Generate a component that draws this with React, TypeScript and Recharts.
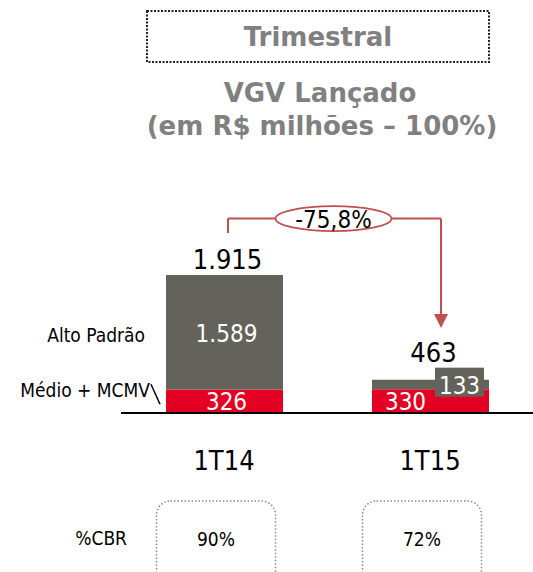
import React from 'react';
import { BarChart, Bar, XAxis, YAxis, LabelList, ReferenceLine } from 'recharts';

const quarters = ['1T14', '1T15'];
const medioMcmv = [326, 330];
const altoPadrao = [1589, 133];
const totals = [1915, 463];
const cbrShare = ['90%', '72%'];
const variationText = '-75,8%';

// bracket annotation levels, in chart units (R$ mi)
const bracketTop = 2700;
const bracketLeftEnd = 2500;
const arrowEnd = 1180;

const RED = '#e30022';
const GRAY = '#64635b';
const ARROW = '#c0504d';
const TITLE_GRAY = '#808080';
const NUM_FONT = "'DejaVu Sans Condensed', 'DejaVu Sans', sans-serif";
const TITLE_FONT = "'DejaVu Sans', sans-serif";

const chartData = quarters.map((q, i) => ({
  q,
  medio: medioMcmv[i],
  alto: altoPadrao[i],
}));

const fmt = (v: number) => v.toLocaleString('pt-BR');

const box = (props: any) => props.viewBox ?? props;

const AltoLabel = (props: any) => {
  const { x, y, width, height } = box(props);
  const index = props.index;
  const cx = x + width / 2;
  const small = height < 20;
  let topEdge = y;
  let inner;
  if (small) {
    const bx = x + 63;
    const by = y - 12;
    topEdge = by;
    inner = (
      <g>
        <rect x={bx} y={by} width={49} height={29} fill={GRAY} />
        <text x={bx + 24.5} y={by + 26} textAnchor="middle" fill="#fff" fontSize={24} fontFamily={NUM_FONT}>
          {fmt(altoPadrao[index])}
        </text>
      </g>
    );
  } else {
    inner = (
      <text x={cx + 2} y={y + height / 2 + 10} textAnchor="middle" fill="#fff" fontSize={24} fontFamily={NUM_FONT}>
        {fmt(altoPadrao[index])}
      </text>
    );
  }
  return (
    <g>
      {inner}
      <text x={cx + 3} y={topEdge - 6} textAnchor="middle" fill="#000" fontSize={27} fontFamily={NUM_FONT}>
        {fmt(totals[index])}
      </text>
      {index === 0 && (
        <text x={x - 21} y={y + height / 2 + 10} textAnchor="end" fill="#000" fontSize={19} fontFamily={NUM_FONT}>
          Alto Padrão
        </text>
      )}
    </g>
  );
};

const MedioLabel = (props: any) => {
  const { x, y, width, height } = box(props);
  const index = props.index;
  const nextSmall = altoPadrao[index] * 0.072 < 20;
  const cx = x + width / 2 + (nextSmall ? -25 : 2);
  const mid = y + height / 2;
  return (
    <g>
      <text x={cx} y={mid + 9} textAnchor="middle" fill="#fff" fontSize={24} fontFamily={NUM_FONT}>
        {fmt(medioMcmv[index])}
      </text>
      {index === 0 && (
        <g>
          <text x={x - 16} y={mid - 4} textAnchor="end" fill="#000" fontSize={19} fontFamily={NUM_FONT}>
            Médio + MCMV
          </text>
          <line x1={x - 15} y1={mid - 17} x2={x - 6} y2={mid + 3} stroke="#000" strokeWidth={1.5} />
        </g>
      )}
    </g>
  );
};

const QuarterTick = (props: any) => {
  const { x, y, payload } = props;
  const i = quarters.indexOf(payload.value);
  const bx = x - 8;
  return (
    <g>
      <text x={x} y={y + 57} textAnchor="middle" fill="#000" fontSize={27} fontFamily={NUM_FONT}>
        {payload.value}
      </text>
      <rect
        x={bx - 59.5}
        y={y + 88}
        width={119}
        height={110}
        rx={14}
        fill="none"
        stroke="#8a8a8a"
        strokeWidth={1.5}
        strokeDasharray="1.5 2"
      />
      <text x={bx} y={y + 133} textAnchor="middle" fill="#000" fontSize={19} fontFamily={NUM_FONT}>
        {cbrShare[i]}
      </text>
    </g>
  );
};

const LeftStem = (p: any) => (
  <line x1={p.x1 + 4} y1={p.y1} x2={p.x2 + 4} y2={p.y2} stroke={ARROW} strokeWidth={2} />
);

const TopBar = (p: any) => {
  const x1 = p.x1 + 4;
  const x2 = p.x2 + 11;
  const mx = (x1 + x2) / 2 - 1;
  return (
    <g>
      <line x1={x1} y1={p.y1} x2={x2} y2={p.y2} stroke={ARROW} strokeWidth={2} />
      <ellipse cx={mx} cy={p.y1} rx={58} ry={12.5} fill="#fff" stroke={ARROW} strokeWidth={1.8} />
      <text x={mx} y={p.y1 + 9} textAnchor="middle" fill="#000" fontSize={24} fontFamily={NUM_FONT}>
        {variationText}
      </text>
    </g>
  );
};

const ArrowDown = (p: any) => {
  const x = p.x1 + 11;
  const tip = Math.max(p.y1, p.y2);
  return (
    <g>
      <line x1={x} y1={Math.min(p.y1, p.y2)} x2={x} y2={tip - 12} stroke={ARROW} strokeWidth={2} />
      <polygon points={`${x - 7},${tip - 14} ${x + 7},${tip - 14} ${x},${tip}`} fill={ARROW} />
    </g>
  );
};

export default function App() {
  return (
    <div style={{ position: 'absolute', left: 0, top: 0, width: 533, height: 572, background: '#fff' }}>
      <svg width={533} height={160} style={{ position: 'absolute', left: 0, top: 0 }}>
        <rect x={147} y={11} width={342} height={51} fill="none" stroke="#222" strokeWidth={2} strokeDasharray="2 1.5" />
        <g fill={TITLE_GRAY} fontFamily={TITLE_FONT} fontWeight="bold" fontSize={26} textAnchor="middle">
          <text x={318} y={46}>Trimestral</text>
          <text x={320} y={102}>VGV Lançado</text>
          <text x={322} y={135}>(em R$ milhões – 100%)</text>
        </g>
      </svg>
      <BarChart
        width={533}
        height={572}
        data={chartData}
        margin={{ top: 197, right: 0, bottom: 129, left: 121 }}
        style={{ position: 'absolute', left: 0, top: 0 }}
      >
        <XAxis
          dataKey="q"
          interval={0}
          height={30}
          tickLine={false}
          tickSize={0}
          tickMargin={0}
          axisLine={{ stroke: '#000', strokeWidth: 2 }}
          tick={<QuarterTick />}
        />
        <YAxis hide domain={[0, 3000]} />
        <Bar dataKey="medio" stackId="a" fill={RED} barSize={117} isAnimationActive={false}>
          <LabelList dataKey="medio" content={MedioLabel} />
        </Bar>
        <Bar dataKey="alto" stackId="a" fill={GRAY} barSize={117} isAnimationActive={false}>
          <LabelList dataKey="alto" content={AltoLabel} />
        </Bar>
        <ReferenceLine
          segment={[{ x: quarters[0], y: bracketLeftEnd }, { x: quarters[0], y: bracketTop }]}
          shape={LeftStem}
        />
        <ReferenceLine
          segment={[{ x: quarters[0], y: bracketTop }, { x: quarters[1], y: bracketTop }]}
          shape={TopBar}
        />
        <ReferenceLine
          segment={[{ x: quarters[1], y: bracketTop }, { x: quarters[1], y: arrowEnd }]}
          shape={ArrowDown}
        />
      </BarChart>
      <svg width={160} height={60} style={{ position: 'absolute', left: 0, top: 510 }}>
        <text x={127} y={35} textAnchor="end" fill="#000" fontSize={19} fontFamily={NUM_FONT}>
          %CBR
        </text>
      </svg>
    </div>
  );
}
